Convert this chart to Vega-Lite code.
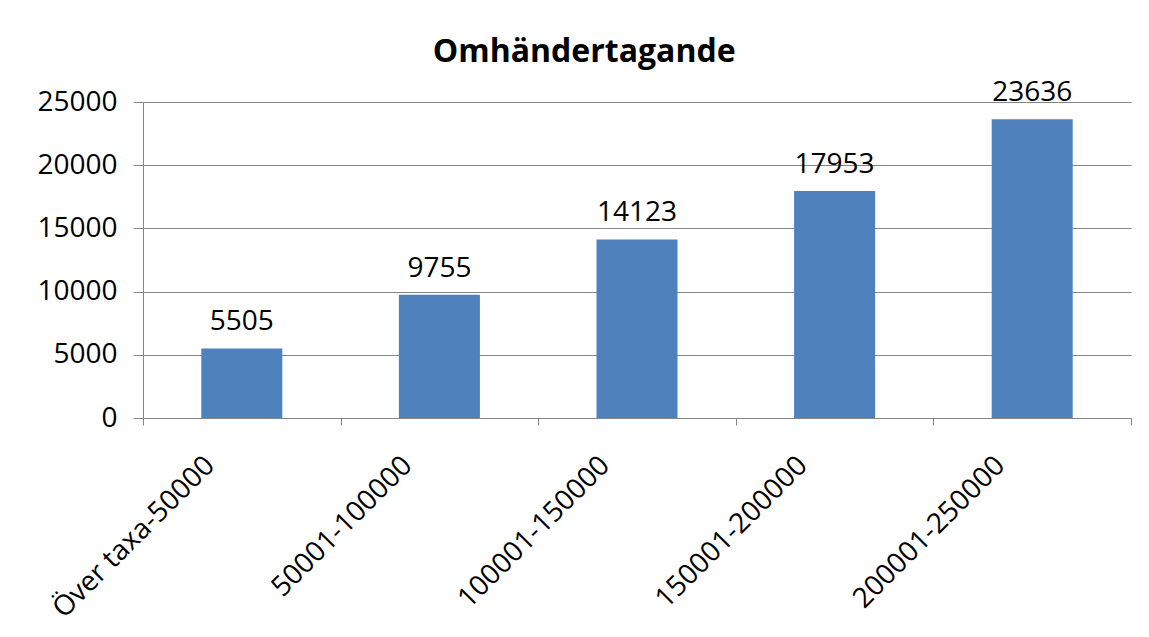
{
  "$schema": "https://vega.github.io/schema/vega-lite/v6.json",
  "autosize": "none",
  "width": 988,
  "height": 316,
  "padding": {"left": 143, "top": 102, "right": 18, "bottom": 219},
  "background": "white",
  "title": {
    "text": "Omhändertagande",
    "font": "Open Sans",
    "fontSize": 32,
    "fontWeight": "bold",
    "color": "#000000",
    "anchor": "middle",
    "frame": "bounds",
    "offset": 10
  },
  "data": {
    "values": [
      {"kategori": "Över taxa-50000", "värde": 5505},
      {"kategori": "50001-100000", "värde": 9755},
      {"kategori": "100001-150000", "värde": 14123},
      {"kategori": "150001-200000", "värde": 17953},
      {"kategori": "200001-250000", "värde": 23636}
    ]
  },
  "config": {
    "view": {"stroke": null},
    "font": "Open Sans"
  },
  "encoding": {
    "x": {
      "field": "kategori",
      "type": "nominal",
      "sort": null,
      "scale": {"paddingInner": 0, "paddingOuter": 0},
      "axis": {
        "title": null,
        "labelAngle": -45,
        "labelAlign": "right",
        "labelBaseline": "middle",
        "labelFontSize": 28,
        "labelColor": "#000000",
        "labelFont": "Open Sans",
        "labelPadding": 36,
        "labelOffset": -32,
        "labelLimit": 500,
        "tickBand": "extent",
        "tickSize": 7,
        "tickColor": "#868686",
        "domainColor": "#868686"
      }
    },
    "y": {
      "field": "värde",
      "type": "quantitative",
      "scale": {"domain": [0, 25000], "nice": false},
      "axis": {
        "title": null,
        "values": [0, 5000, 10000, 15000, 20000, 25000],
        "format": "d",
        "labelFontSize": 28,
        "labelColor": "#000000",
        "labelFont": "Open Sans",
        "labelPadding": 16,
        "tickSize": 10,
        "tickColor": "#868686",
        "domainColor": "#868686",
        "gridColor": "#868686",
        "grid": true
      }
    }
  },
  "layer": [
    {"mark": {"type": "bar", "color": "#4F81BD", "width": {"band": 0.41}}},
    {
      "mark": {"type": "text", "baseline": "alphabetic", "dy": -18, "fontSize": 28, "color": "#000000", "font": "Open Sans"},
      "encoding": {"text": {"field": "värde", "type": "quantitative", "format": "d"}}
    }
  ]
}
